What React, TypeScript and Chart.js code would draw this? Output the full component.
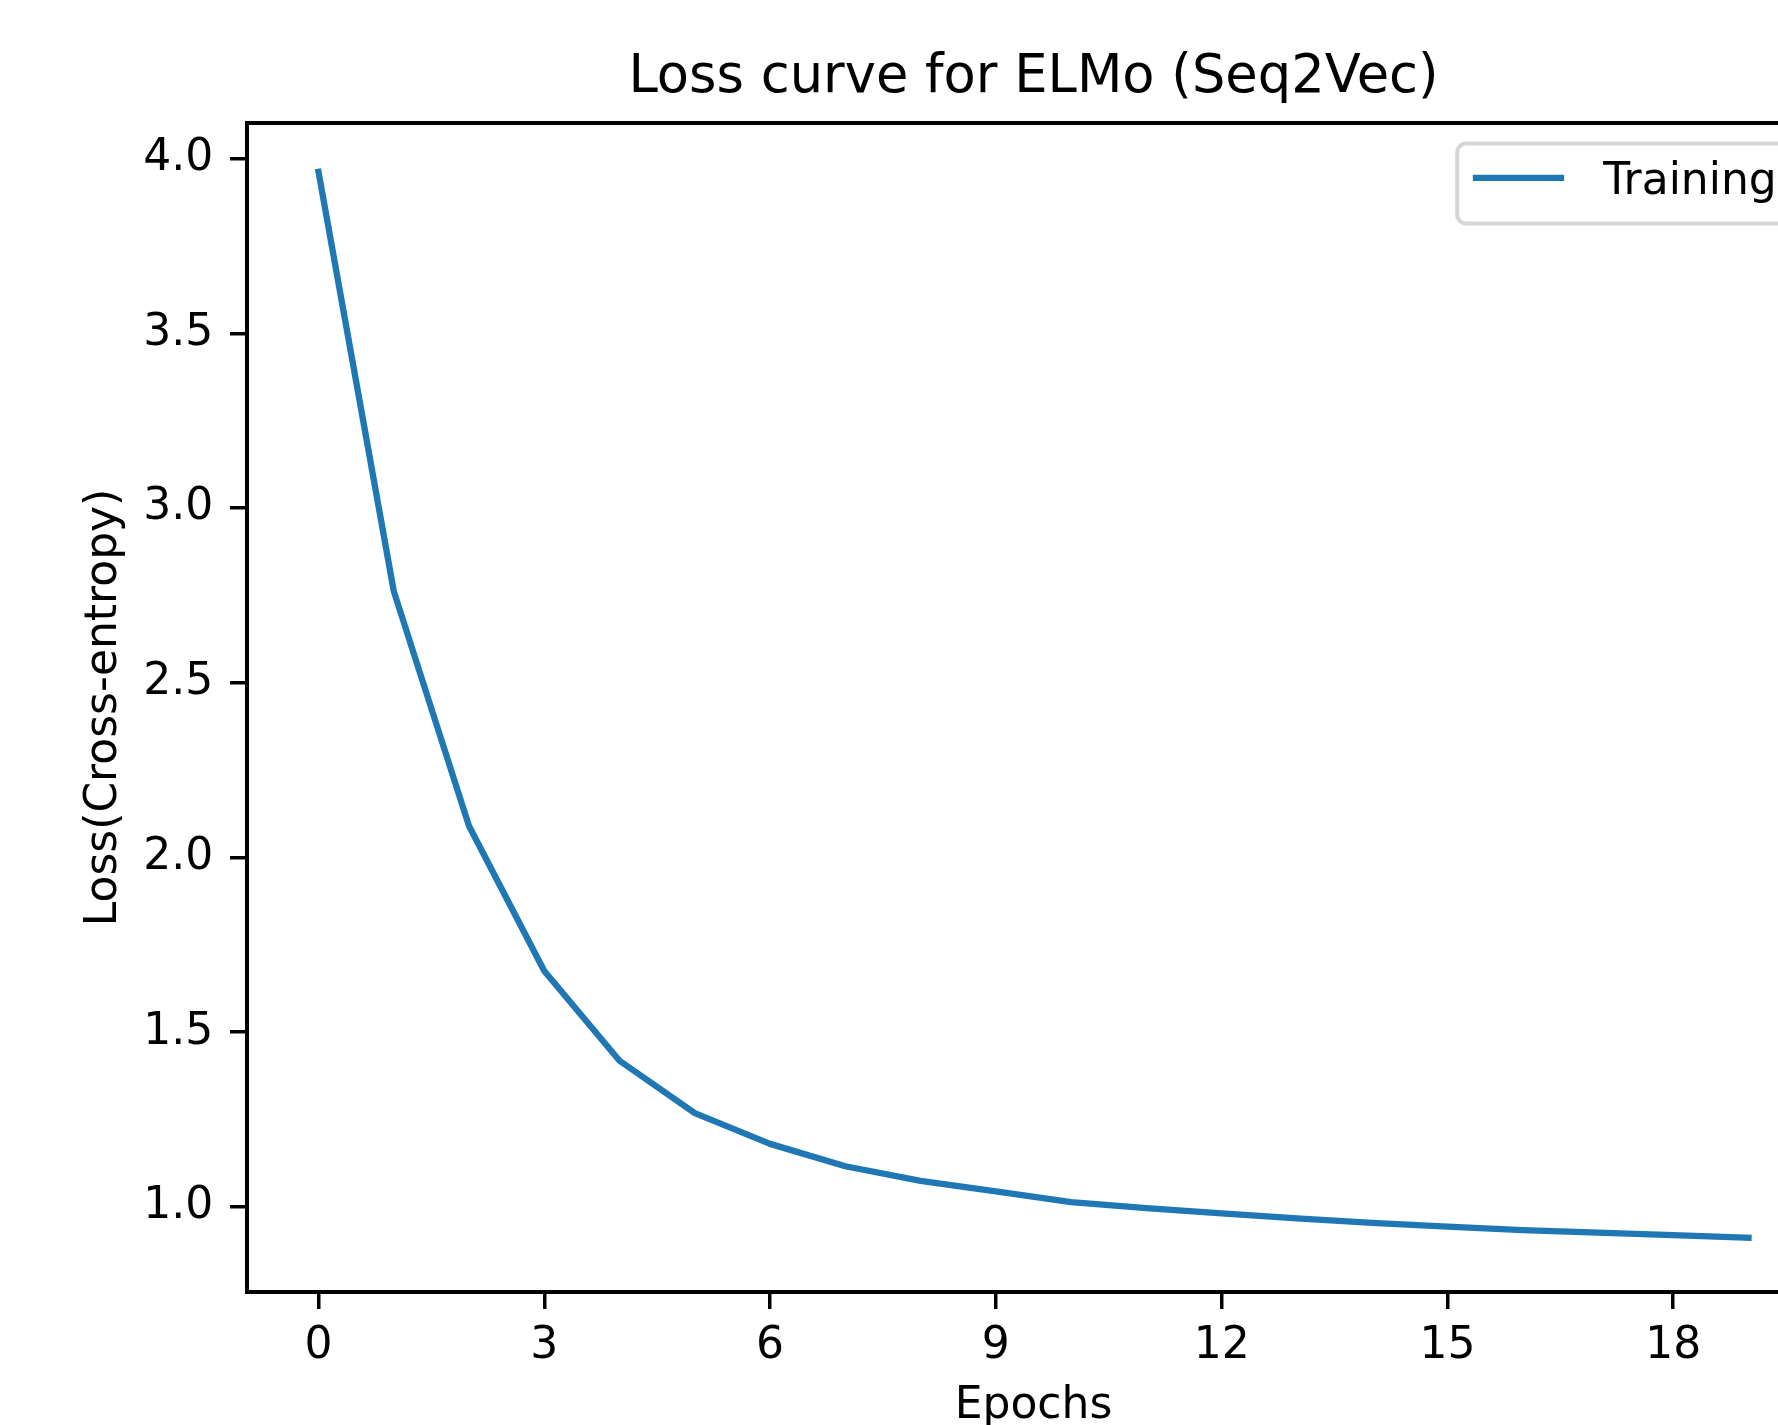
import React, { useEffect, useRef } from "react";
import { Chart, registerables } from "chart.js";

Chart.register(...registerables);

// ---- data ----
const chartTitle = "Loss curve for ELMo (Seq2Vec)";
const xAxisTitle = "Epochs";
const yAxisTitle = "Loss(Cross-entropy)";
const seriesLabel = "Training";
const epochs = [0, 1, 2, 3, 4, 5, 6, 7, 8, 9, 10, 11, 12, 13, 14, 15, 16, 17, 18, 19];
const trainingLoss = [
  3.962, 2.762, 2.09, 1.675, 1.418, 1.268, 1.18, 1.116, 1.074, 1.044,
  1.013, 0.996, 0.981, 0.967, 0.954, 0.943, 0.933, 0.926, 0.919, 0.911,
];
const xTickValues = [0, 3, 6, 9, 12, 15, 18];
const yTickValues = [1.0, 1.5, 2.0, 2.5, 3.0, 3.5, 4.0];
const xRange = [-0.95, 19.95];
const yRange = [0.756, 4.102];

// ---- styling ----
const FONT = "'DejaVu Sans', 'Liberation Sans', sans-serif";
const LINE_COLOR = "#1f77b4";
const CANVAS_W = 1900;
const CANVAS_H = 1460;
const TICK_FS = 44;
const TITLE_FS = 52.7;

const framePlugin = {
  id: "axesFrame",
  afterDatasetsDraw(chart: any) {
    const { ctx, chartArea: a } = chart;
    ctx.save();
    ctx.strokeStyle = "#000";
    ctx.lineWidth = 4;
    ctx.strokeRect(a.left, a.top, a.right - a.left, a.bottom - a.top);
    ctx.restore();
  },
};

const boxLegendPlugin = {
  id: "boxLegend",
  afterDraw(chart: any) {
    const { ctx, chartArea: a } = chart;
    const ds = chart.data.datasets[0];
    const fs = TICK_FS;
    ctx.save();
    ctx.font = `${fs}px ${FONT}`;
    const textW = ctx.measureText(ds.label).width;
    const boxRight = a.right - 0.5 * fs;
    const boxW = 3.8 * fs + textW;
    const boxLeft = boxRight - boxW;
    const boxTop = a.top + 20.5;
    const boxH = 80;
    ctx.beginPath();
    (ctx as any).roundRect(boxLeft, boxTop, boxW, boxH, 9);
    ctx.fillStyle = "rgba(255,255,255,0.8)";
    ctx.fill();
    ctx.lineWidth = 4;
    ctx.strokeStyle = "#d6d6d6";
    ctx.stroke();
    // handle
    const hy = boxTop + 34.4;
    const hx0 = boxLeft + 18.8;
    ctx.beginPath();
    ctx.moveTo(hx0, hy);
    ctx.lineTo(hx0 + 85, hy);
    ctx.strokeStyle = ds.borderColor;
    ctx.lineWidth = ds.borderWidth;
    ctx.lineCap = "square";
    ctx.stroke();
    // text
    ctx.fillStyle = "#000";
    ctx.textAlign = "left";
    ctx.textBaseline = "alphabetic";
    ctx.fillText(ds.label, boxLeft + 146, boxTop + 50.7);
    ctx.restore();
  },
};

export default function App() {
  const canvasRef = useRef<HTMLCanvasElement | null>(null);

  useEffect(() => {
    const canvas = canvasRef.current;
    if (!canvas) return;
    const tickFont = { family: FONT, size: TICK_FS, weight: "normal" as const };
    const chart = new Chart(canvas, {
      type: "line",
      data: {
        datasets: [
          {
            label: seriesLabel,
            data: epochs.map((e, i) => ({ x: e, y: trainingLoss[i] })),
            borderColor: LINE_COLOR,
            backgroundColor: LINE_COLOR,
            borderWidth: 6.3,
            pointRadius: 0,
            tension: 0,
            fill: false,
            borderCapStyle: "square",
            borderJoinStyle: "round",
          },
        ],
      },
      options: {
        responsive: false,
        animation: false,
        devicePixelRatio: 1,
        events: [],
        layout: { padding: { left: 0, right: CANVAS_W - 1820, top: 0, bottom: 0 } },
        plugins: {
          legend: { display: false },
          tooltip: { enabled: false },
          title: {
            display: true,
            text: chartTitle,
            fullSize: false,
            color: "#000",
            font: { family: FONT, size: TITLE_FS, weight: "normal" },
            padding: { top: 46.7, bottom: 13.06 },
          },
        },
        scales: {
          x: {
            type: "linear",
            min: xRange[0],
            max: xRange[1],
            afterFit: (s: any) => {
              s.height = CANVAS_H - 1292;
            },
            afterBuildTicks: (s: any) => {
              s.ticks = xTickValues.map((v) => ({ value: v }));
            },
            ticks: {
              font: tickFont,
              color: "#000",
              padding: 11,
              maxRotation: 0,
              autoSkip: false,
              callback: (v: any) => String(v),
            },
            grid: {
              display: true,
              drawOnChartArea: false,
              drawTicks: true,
              tickLength: 17,
              color: "#000",
              lineWidth: 3.5,
            },
            border: { display: true, color: "#000", width: 4 },
            title: {
              display: true,
              text: xAxisTitle,
              color: "#000",
              font: tickFont,
              padding: { top: 0, bottom: 27 },
            },
          },
          y: {
            type: "linear",
            min: yRange[0],
            max: yRange[1],
            afterFit: (s: any) => {
              s.width = 247;
            },
            afterBuildTicks: (s: any) => {
              s.ticks = yTickValues.map((v) => ({ value: v }));
            },
            ticks: {
              font: tickFont,
              color: "#000",
              padding: 16.7,
              autoSkip: false,
              callback: (v: any) => Number(v).toFixed(1),
            },
            grid: {
              display: true,
              drawOnChartArea: false,
              drawTicks: true,
              tickLength: 17,
              color: "#000",
              lineWidth: 3.5,
            },
            border: { display: true, color: "#000", width: 4 },
            title: {
              display: true,
              text: yAxisTitle,
              color: "#000",
              font: tickFont,
              padding: { top: 78.6, bottom: 0 },
            },
          },
        },
      } as any,
      plugins: [framePlugin, boxLegendPlugin],
    });
    return () => chart.destroy();
  }, []);

  return (
    <div
      style={{
        position: "fixed",
        left: 0,
        top: 0,
        width: 1778,
        height: 1425,
        overflow: "hidden",
        background: "#fff",
      }}
    >
      <canvas
        ref={canvasRef}
        width={CANVAS_W}
        height={CANVAS_H}
        style={{ display: "block", width: CANVAS_W, height: CANVAS_H }}
      />
    </div>
  );
}
